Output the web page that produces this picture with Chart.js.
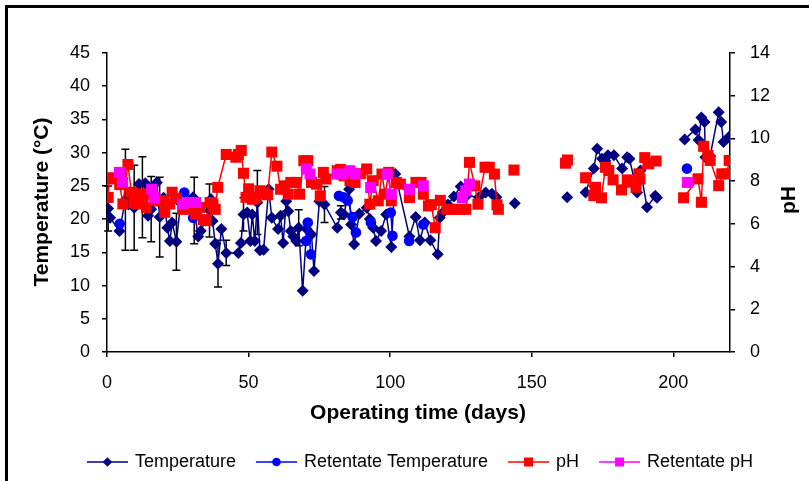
<!DOCTYPE html>
<html>
<head>
<meta charset="utf-8">
<script src="https://cdn.jsdelivr.net/npm/chart.js@4"></script>
<style>
  html, body { margin: 0; padding: 0; background: #fff; }
  #wrap { width: 809px; height: 481px; position: relative; }
</style>
</head>
<body>
<div id="wrap"><canvas id="myChart" width="809" height="481"></canvas></div>
<script>
// values; null = break in the line
const tempDays = [0.4, 1.1, 4.4, 6.5, 7.6, 9.6, 11.3, 12.5, 13.5, 14.5, 15.6, 17.6, 18.6, 20, 21.3, 22.2, 23, 24.5, 26, 28.5,
  30.4, 30.8, 32.2, 33.1, 36.2, 36.7, 37.3, 38.2, 39.2, 40.4, 42.1, 46.4, 47.3, 48.2, 49.5, 50.6, 51.3, 52.2, 53.1, 54,
  55.3, 57.1, 58.2, 60.4, 61.3, 62.2, 63.3, 64, 64.9, 65.8, 66.8, 67.7, 69.1, 70.5, 72.2, 73.1, 75, 76.8, 81.3, 82.6,
  83.7, 85.5, 86.2, 87.3, 89.1, 91.7, 92.8, 94, 95, 96.8, 98.6, 100.4, 101.8, 106.8, 109, 110.5, 112.2, 114.2, 116.8, 117.5,
  118.6, 120.4, 122.5, 124.9, 127, 131.3, 133.7, 135.9, 137.5, 140, 144, 150, 162.5, 165, 169, 171.9, 173.1, 174.8, 176, 176.9,
  179, 181.9, 183.7, 184.5, 187.2, 188.4, 190.7, 193.6, 194.2, 200, 204, 207.8, 208.9, 209.9, 211, 211.3, 213, 216, 216.9, 217.7, 219.7];
const tempValues = [21.6, 20.2, 18.2, 22.9, 22.2, 21.7, 25.3, 23.3, 25.4, 20.5, 21.5, 25.5, 20.3, 23.2, 18.7, 16.7, 19.5, 16.6, 22.4, 22.0,
  23.3, 21.3, 17.4, 18.2, 21.3, 23.0, 19.7, 16.3, 13.3, 18.5, 14.9, 14.9, 16.4, 20.7, 21.0, 16.7, 20.7, 16.7, 22.5, 15.3,
  15.4, 24.5, 20.2, 18.5, 20.5, 16.4, 22.7, 21.2, 18.2, 17.4, 16.7, 18.7, 9.2, 18.5, 17.7, 12.2, 22.7, 22.2, 18.7, 21.0,
  20.7, 24.5, 19.2, 16.2, 20.8, 21.7, 20.0, 18.7, 16.7, 18.2, 20.7, 15.8, 26.8, 17.4, 20.3, 16.8, 19.5, 16.8, 14.7, 20.2,
  21.0, 22.2, 23.4, 24.9, 23.5, 23.3, 24.0, 23.8, 23.3, null, 22.4, null, 23.3, null, 24.0, 27.6, 30.6, 29.1, 28.8, 29.6,
  29.6, 27.6, 29.3, 29.1, 24.0, 27.3, 21.8, 23.5, 23.2, null, 32.0, 33.5, 31.9, 35.3, 34.6, 29.3, 29.5, 36.1, 34.6, 31.6, 32.4];
// +/- error on temperature (null = no bar)
const tempErr = [3.4, null, null, 7.6, null, 6.4, null, 6.1, null, null, 4.9, null, 6.0, null, null, null, null, 4.3, null, null,
  null, 5.0, null, null, 4.0, null, null, null, 3.5, null, 1.9, null, null, 2.5, null, null, null, null, 4.8, null,
  null, null, null, null, null, null, 1.5, null, null, null, null, 2.7, null, null, null, null, null, 2.7, null, 1.0];

const phDays = [0.4, 0.8, 2, 4.5, 5.6, 7.4, 8.6, 9.5, 10.4, 11.5, 12.5, 13.9, 14.9, 17, 18.5, 19.7, 20.4, 22.1, 23, 24.5,
  26.7, 27.4, 29, 31.3, 32.7, 34, 35, 36.4, 37.4, 38.2, 39.1, 42.1, 45.5, 46.4, 47.4, 48.2, 49.1, 50, 51.3, 52.7,
  54, 55.5, 56.7, 58.2, 60, 61.3, 62.6, 64, 64.9, 66.8, 68, 69.5, 70.9, 72.2, 74, 75.3, 76.4, 77.3, 81.3, 82.5,
  83.7, 85.8, 87.6, 89.5, 91.7, 92.8, 94, 95.8, 97.1, 98.2, 99.5, 100.4, 102.2, 103.6, 106.8, 109.1, 110.9, 111.7, 113.5, 114.5,
  115.9, 117.7, 120, 122.2, 124.4, 126.7, 128, 129.9, 131, 133.5, 135, 136.8, 137.7, 138.2, 140, 143.7, 150, 161.9, 162.6, 165,
  169, 171.9, 172.5, 174.6, 176, 177.2, 178.7, 181.7, 183.7, 185, 186.8, 187.8, 188.2, 189.9, 191.3, 193.9, 200, 203.6, 208.7, 209.9,
  210.7, 212.2, 213, 216, 217.1, 218.9, 219.7];
const phValues = [7.24, 8.16, 8.1, 7.84, 6.93, 8.78, 7.48, 7.0, 6.93, 7.4, 7.2, 6.77, 7.4, 7.1, 7.07, 7.09, 6.54, 6.93, 7.48, 7.2,
  6.68, 6.85, 6.7, 6.45, 6.77, 6.2, 6.15, 7.0, 6.93, 6.68, 7.71, 9.25, 9.12, 9.25, 9.44, 8.37, 7.24, 7.64, 7.15, 7.24,
  7.55, 7.45, 7.36, 9.36, 8.7, 7.62, 7.78, 7.39, 7.94, 7.94, 7.39, 8.96, 8.96, 7.94, 7.86, 7.31, 8.41, 8.1, 8.49, 8.55,
  8.25, 8.02, 7.94, 8.35, 8.57, 6.92, 8.02, 7.08, 8.33, 7.39, 8.41, 7.08, 7.94, 7.86, 7.23, 7.94, 7.94, 7.39, 6.84, 6.9,
  5.82, 7.1, 6.68, 6.68, 6.68, 6.68, 8.88, 7.78, 6.92, 8.65, 8.65, 8.33, 6.89, 6.68, null, 8.52, null, 8.84, 8.99, null,
  8.16, 7.32, 7.71, 7.22, 8.65, 8.5, 8.06, 7.59, 8.06, 7.95, 7.71, 8.34, 8.1, 9.1, 8.81, 8.94, null, 7.22, 8.11, 7.01,
  9.63, 9.2, 8.97, 7.79, 8.34, 8.34, 8.97];

const retTempDays = [4.5, 10, 27.3, 30.4, 50, 70.3, 70.9, 72, 78, 81.9, 83.5, 85, 86.7, 87.9, 90, 93.2, 96, 100.2, 100.8, 104, 106.7, 109, 111.7, 150, 204.8];
const retTempValues = [19.3, null, 24, 20.2, null, 16.7, 19.5, 14.7, null, 23.5, 23.3, 22.8, 20.3, 18, null, 19.5, null, 21, 17.5, null, 16.7, null, 19.2, null, 27.6];

const retPhDays = [4.4, 5.5, 10, 15.8, 16.7, 20, 26.7, 28.5, 31.3, 50, 70.4, 71.7, 78, 81.3, 83.1, 85.8, 87.6, 90, 93.1, 96, 98.9, 100.4, 104, 106.8, 109, 111.7, 118, 125.5, 126.7, 128, 150, 205];
const retPhValues = [8.41, 7.94, null, 7.62, 7.23, null, 6.92, 7.0, 7.0, null, 8.57, 8.33, null, 8.33, 8.33, 8.49, 8.33, null, 7.7, null, 8.33, 7.39, null, 7.62, null, 7.78, null, 7.23, 7.55, 7.86, null, 7.94];

const xTicks = [0, 50, 100, 150, 200];

const FONT = '"Liberation Sans", Arial, sans-serif';

function pts(days, vals) {
  return days.map((d, i) => ({ x: d, y: vals[i] }));
}

// small picture of line + marker for the legend (a bit wider than the legend box)
function legendIcon(color, style) {
  const c = document.createElement('canvas');
  c.width = 52; c.height = 14;
  const g = c.getContext('2d');
  g.strokeStyle = color; g.lineWidth = 1.5;
  g.beginPath(); g.moveTo(11, 7); g.lineTo(52, 7); g.stroke();
  g.fillStyle = color;
  const cx = 31.5, cy = 7;
  g.beginPath();
  if (style === 'rectRot') { g.moveTo(cx - 4.8, cy); g.lineTo(cx, cy - 4.8); g.lineTo(cx + 4.8, cy); g.lineTo(cx, cy + 4.8); }
  else if (style === 'circle') { g.arc(cx, cy, 4.3, 0, Math.PI * 2); }
  else { g.rect(cx - 4.5, cy - 4.5, 9, 9); }
  g.closePath(); g.fill();
  return c;
}

const frameAndTitles = {
  id: 'frameAndTitles',
  afterDraw(chart) {
    const ctx = chart.ctx;
    ctx.save();
    ctx.fillStyle = '#000';
    ctx.fillRect(5, 5, 804, 3);
    ctx.fillRect(5, 5, 3, 476);
    ctx.font = 'bold 21px ' + FONT;
    ctx.textAlign = 'center';
    ctx.textBaseline = 'middle';
    ctx.fillText('Operating time (days)', 418, 413);
    ctx.save();
    ctx.translate(42, 202);
    ctx.rotate(-Math.PI / 2);
    ctx.fillText('Temperature (°C)', 0, 0);
    ctx.restore();
    ctx.save();
    ctx.translate(789, 200);
    ctx.rotate(-Math.PI / 2);
    ctx.fillText('pH', 0, 0);
    ctx.restore();
    ctx.restore();
  }
};

const errorBars = {
  id: 'errorBars',
  beforeDatasetsDraw(chart) {
    const { ctx, scales: { x, y } } = chart;
    ctx.save();
    ctx.strokeStyle = '#000';
    ctx.lineWidth = 1.5;
    tempDays.forEach((d, i) => {
      const e = tempErr[i];
      if (e == null || tempValues[i] == null) return;
      const px = x.getPixelForValue(d);
      const top = y.getPixelForValue(tempValues[i] + e);
      const bot = y.getPixelForValue(tempValues[i] - e);
      ctx.beginPath();
      ctx.moveTo(px, top); ctx.lineTo(px, bot);
      ctx.moveTo(px - 4, top); ctx.lineTo(px + 4, top);
      ctx.moveTo(px - 4, bot); ctx.lineTo(px + 4, bot);
      ctx.stroke();
    });
    ctx.restore();
  }
};

const ctx = document.getElementById('myChart').getContext('2d');
const myChart = new Chart(ctx, {
  type: 'line',
  data: {
    datasets: [
      {
        label: 'Temperature', data: pts(tempDays, tempValues), yAxisID: 'y', order: 4,
        borderColor: '#000080', backgroundColor: '#000080', borderWidth: 1.5,
        pointStyle: 'rectRot', pointRadius: 6, pointBorderWidth: 0, icon: legendIcon('#000080', 'rectRot')
      },
      {
        label: 'Retentate Temperature', data: pts(retTempDays, retTempValues), yAxisID: 'y', order: 3,
        borderColor: '#0000FF', backgroundColor: '#0000FF', borderWidth: 1.5,
        pointStyle: 'circle', pointRadius: 5.3, pointBorderWidth: 0, icon: legendIcon('#0000FF', 'circle')
      },
      {
        label: 'pH', data: pts(phDays, phValues), yAxisID: 'y1', order: 2,
        borderColor: '#FF0000', backgroundColor: '#FF0000', borderWidth: 1.5,
        pointStyle: 'rect', pointRadius: 7.8, pointBorderWidth: 0, icon: legendIcon('#FF0000', 'rect')
      },
      {
        label: 'Retentate pH', data: pts(retPhDays, retPhValues), yAxisID: 'y1', order: 1,
        borderColor: '#FF00FF', backgroundColor: '#FF00FF', borderWidth: 1.5,
        pointStyle: 'rect', pointRadius: 7.8, pointBorderWidth: 0, icon: legendIcon('#FF00FF', 'rect')
      }
    ]
  },
  options: {
    responsive: false,
    animation: false,
    spanGaps: false,
    layout: { padding: { top: 53, left: 22, right: 0, bottom: 0 } },
    plugins: {
      tooltip: { enabled: false },
      legend: {
        position: 'bottom',
        labels: {
          usePointStyle: true,
          pointStyleWidth: 48,
          padding: 11,
          color: '#000',
          font: { family: FONT, size: 18 },
          generateLabels(chart) {
            return chart.data.datasets.map((ds, i) => ({
              text: ds.label, datasetIndex: i, pointStyle: ds.icon,
              fillStyle: 'transparent', strokeStyle: 'transparent', lineWidth: 0, fontColor: '#000', hidden: false
            }));
          }
        }
      }
    },
    scales: {
      x: {
        type: 'linear', min: 0, max: 220,
        afterFit(s) { s.height = 90; },
        afterBuildTicks(s) { s.ticks = xTicks.map(v => ({ value: v })); },
        border: { display: true, color: '#000', width: 1.5 },
        grid: { drawOnChartArea: false, drawTicks: true, tickLength: 5, color: '#000', lineWidth: 1.5 },
        ticks: { color: '#000', padding: 15, maxRotation: 0, font: { family: FONT, size: 18 } }
      },
      y: {
        position: 'left', min: 0, max: 45,
        afterFit(s) { s.width = 85; },
        border: { display: true, color: '#000', width: 1.5 },
        grid: { drawOnChartArea: false, drawTicks: true, tickLength: 5, color: '#000', lineWidth: 1.5 },
        ticks: { stepSize: 5, color: '#000', padding: 12, font: { family: FONT, size: 18 } }
      },
      y1: {
        position: 'right', min: 0, max: 14,
        afterFit(s) { s.width = 79; },
        border: { display: true, color: '#000', width: 1.5 },
        grid: { drawOnChartArea: false, drawTicks: true, tickLength: 5, color: '#000', lineWidth: 1.5 },
        ticks: { stepSize: 2, color: '#000', padding: 15, font: { family: FONT, size: 18 } }
      }
    }
  },
  plugins: [errorBars, frameAndTitles]
});
</script>
</body>
</html>
